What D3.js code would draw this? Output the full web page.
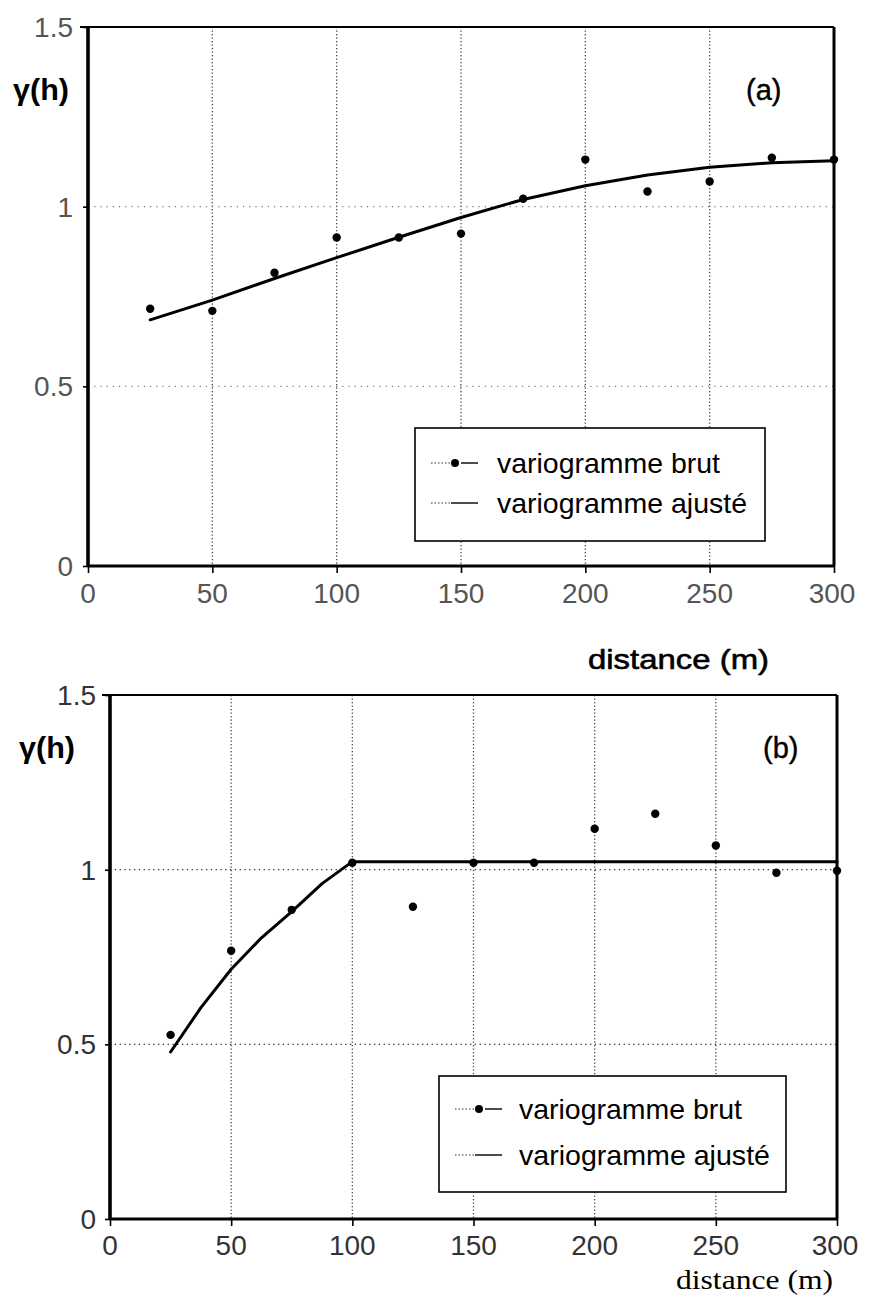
<!DOCTYPE html>
<html>
<head>
<meta charset="utf-8">
<script src="https://cdn.jsdelivr.net/npm/d3@7"></script>
<style>
  html, body { margin: 0; padding: 0; background: #fff; }
  svg { display: block; }
</style>
</head>
<body>
<svg id="chart" width="870" height="1298"></svg>
<script>
// Experimental variogram lags (m)
const lags = [25, 50, 75, 100, 125, 150, 175, 200, 225, 250, 275, 300];

// (a) raw variogram values and fitted model
const rawA = [0.716, 0.710, 0.816, 0.914, 0.914, 0.925, 1.022, 1.131, 1.042, 1.070, 1.136, 1.131];
const fitLagsA = [25, 50, 75, 100, 125, 150, 175, 200, 225, 250, 275, 300];
const fitA = [0.685, 0.740, 0.800, 0.858, 0.915, 0.970, 1.020, 1.058, 1.088, 1.110, 1.122, 1.128];

// (b) raw variogram values and fitted model
const rawB = [0.527, 0.768, 0.885, 1.020, 0.894, 1.020, 1.020, 1.117, 1.160, 1.069, 0.991, 0.997];
const fitLagsB = [25, 37.5, 50, 62.5, 75, 87.5, 100, 300];
const fitB = [0.478, 0.605, 0.715, 0.805, 0.880, 0.960, 1.023, 1.023];

// Axis ticks
const xTicks = [0, 50, 100, 150, 200, 250, 300];
const xGrid = [50, 100, 150, 200, 250];
const yTicks = [0, 0.5, 1, 1.5];
const yTickLabels = ["0", "0.5", "1", "1.5"];
const yGrid = [0.5, 1];

const legendLabels = ["variogramme brut", "variogramme ajusté"];

const svg = d3.select("#chart");

function drawPanel(cfg) {
  const x = d3.scaleLinear().domain([0, 300]).range([cfg.left, cfg.right]);
  const y = d3.scaleLinear().domain([0, 1.5]).range([cfg.bottom, cfg.top]);
  const g = svg.append("g");

  // dotted grid
  g.selectAll(".vgrid").data(xGrid).enter().append("line")
    .attr("x1", d => x(d)).attr("x2", d => x(d))
    .attr("y1", cfg.top).attr("y2", cfg.bottom)
    .attr("stroke", "#444").attr("stroke-width", 1.3)
    .attr("stroke-dasharray", "1.3,2.2");
  g.selectAll(".hgrid").data(yGrid).enter().append("line")
    .attr("x1", cfg.left).attr("x2", cfg.right)
    .attr("y1", d => y(d)).attr("y2", d => y(d))
    .attr("stroke", cfg.hGridColor).attr("stroke-width", 1.3)
    .attr("stroke-dasharray", cfg.hGridDash);

  // frame
  g.append("line").attr("x1", cfg.left - 8).attr("x2", cfg.right).attr("y1", cfg.top).attr("y2", cfg.top)
    .attr("stroke", "#000").attr("stroke-width", 2.2);
  g.append("line").attr("x1", cfg.right).attr("x2", cfg.right).attr("y1", cfg.top).attr("y2", cfg.bottom)
    .attr("stroke", "#000").attr("stroke-width", 3);

  // axes
  const xAxis = d3.axisBottom(x).tickValues(xTicks).tickSize(7).tickFormat("");
  const xa = g.append("g").attr("transform", `translate(0,${cfg.bottom})`).call(xAxis);
  xa.select(".domain").attr("stroke-width", 3.2).attr("d", `M${cfg.left},0H${cfg.right}`);
  xa.selectAll(".tick line").attr("stroke-width", 1.6);

  const yAxis = d3.axisLeft(y).tickValues(yTicks).tickSize(5).tickFormat("");
  const ya = g.append("g").attr("transform", `translate(${cfg.left},0)`).call(yAxis);
  ya.select(".domain").attr("stroke-width", 3.6).attr("d", `M0,${cfg.top}V${cfg.bottom}`);
  ya.selectAll(".tick line").attr("stroke-width", 1.6);

  // tick labels
  g.selectAll(".xl").data(xTicks).enter().append("text")
    .attr("x", d => x(d) + (d === 300 ? -2 : 0)).attr("y", cfg.xLabelY)
    .attr("text-anchor", "middle")
    .attr("font-family", "'Liberation Sans', Arial, sans-serif").attr("font-size", 28).attr("fill", cfg.tickColor)
    .text(d => d);
  g.selectAll(".yl").data(yTicks).enter().append("text")
    .attr("x", cfg.yLabelX).attr("y", d => y(d) + 10)
    .attr("text-anchor", "end")
    .attr("font-family", "'Liberation Sans', Arial, sans-serif").attr("font-size", 28).attr("fill", cfg.tickColor)
    .text((d, i) => yTickLabels[i]);

  // fitted model
  const fitPts = cfg.fitLags.map((d, i) => [d, cfg.fit[i]]);
  g.append("path").datum(fitPts)
    .attr("fill", "none").attr("stroke", "#000").attr("stroke-width", 3)
    .attr("stroke-linejoin", "round").attr("stroke-linecap", "round")
    .attr("d", d3.line().x(d => x(d[0])).y(d => y(d[1])));

  // raw points
  g.selectAll(".pt").data(lags.map((d, i) => [d, cfg.raw[i]])).enter().append("circle")
    .attr("cx", d => x(d[0])).attr("cy", d => y(d[1])).attr("r", 4.2).attr("fill", "#000");

  // legend
  const L = cfg.legend;
  g.append("rect").attr("x", L.x).attr("y", L.y).attr("width", L.w).attr("height", L.h)
    .attr("fill", "#fff").attr("stroke", "#000").attr("stroke-width", 1.6);
  L.rows.forEach((ry, i) => {
    g.append("line").attr("x1", L.symX).attr("x2", L.symX + 20).attr("y1", ry).attr("y2", ry)
      .attr("stroke", "#333").attr("stroke-width", 1.2).attr("stroke-dasharray", "1.5,2");
    g.append("line").attr("x1", L.symX + (i === 0 ? 30 : 20)).attr("x2", L.symX + 47).attr("y1", ry).attr("y2", ry)
      .attr("stroke", "#000").attr("stroke-width", 1.4);
    if (i === 0) {
      g.append("circle").attr("cx", L.symX + 24).attr("cy", ry).attr("r", 4).attr("fill", "#000");
    }
    g.append("text").attr("x", L.textX).attr("y", ry + 10)
      .attr("font-family", "'Liberation Sans', Arial, sans-serif").attr("font-size", 28).attr("fill", "#000")
      .attr("textLength", L.textLens[i]).attr("lengthAdjust", "spacingAndGlyphs")
      .text(legendLabels[i]);
  });

  // titles
  g.append("text").attr("x", cfg.gammaX).attr("y", cfg.gammaY)
    .attr("font-family", "'Liberation Sans', Arial, sans-serif").attr("font-weight", "bold")
    .attr("font-size", 29).attr("fill", "#000")
    .attr("textLength", 56).attr("lengthAdjust", "spacingAndGlyphs")
    .text("γ(h)");
  g.append("text").attr("x", cfg.tagX).attr("y", cfg.tagY)
    .attr("font-family", "'Liberation Sans', Arial, sans-serif")
    .attr("font-size", 29).attr("fill", "#000").attr("stroke", "#000").attr("stroke-width", 0.4)
    .text(cfg.tag);

  return g;
}

drawPanel({
  left: 88, right: 834, top: 27, bottom: 566,
  raw: rawA, fitLags: fitLagsA, fit: fitA,
  hGridColor: "#777", hGridDash: "1.2,5",
  tickColor: "#555",
  xLabelY: 603, yLabelX: 73,
  legend: { x: 415, y: 428, w: 350, h: 113, rows: [463, 503], symX: 431, textX: 497, textLens: [223, 250] },
  gammaX: 13, gammaY: 100, tag: "(a)", tagX: 746, tagY: 100
});

drawPanel({
  left: 110, right: 837, top: 695, bottom: 1219,
  raw: rawB, fitLags: fitLagsB, fit: fitB,
  hGridColor: "#333", hGridDash: "1.3,3.5",
  tickColor: "#333",
  xLabelY: 1255, yLabelX: 96,
  legend: { x: 439, y: 1076, w: 347, h: 116, rows: [1109, 1155], symX: 455, textX: 519, textLens: [223, 251] },
  gammaX: 19, gammaY: 758, tag: "(b)", tagX: 763, tagY: 758
});

// axis titles
svg.append("text").attr("x", 588).attr("y", 669)
  .attr("font-family", "'Liberation Sans', Arial, sans-serif").attr("font-size", 28)
  .attr("fill", "#000").attr("stroke", "#000").attr("stroke-width", 0.6)
  .attr("textLength", 181).attr("lengthAdjust", "spacingAndGlyphs")
  .text("distance (m)");
svg.append("text").attr("x", 676).attr("y", 1289)
  .attr("font-family", "'Liberation Serif', 'Times New Roman', serif").attr("font-size", 28)
  .attr("fill", "#000")
  .attr("textLength", 157).attr("lengthAdjust", "spacingAndGlyphs")
  .text("distance (m)");
</script>
</body>
</html>
